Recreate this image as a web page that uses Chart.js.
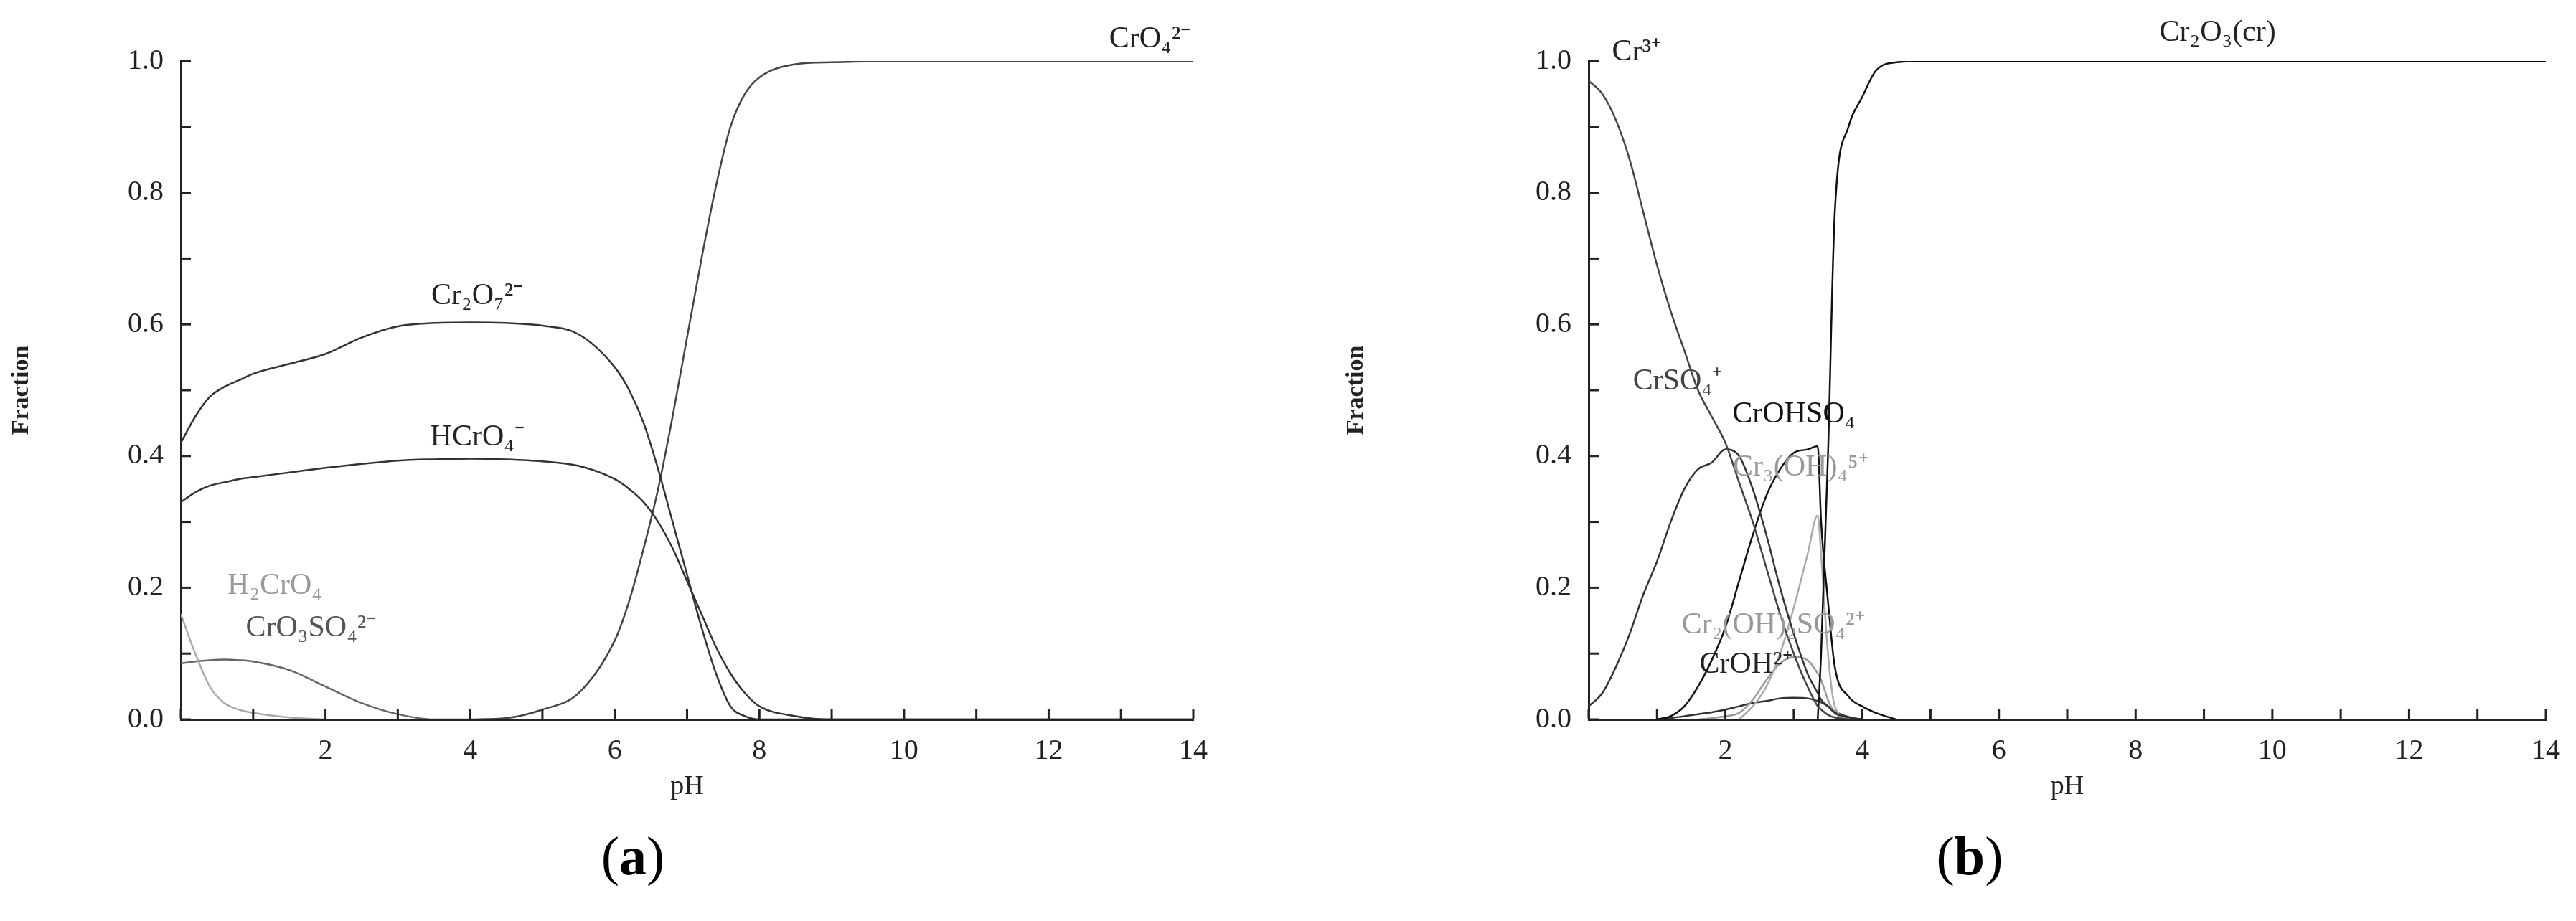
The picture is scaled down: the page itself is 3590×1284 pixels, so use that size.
<!DOCTYPE html>
<html><head><meta charset="utf-8">
<script src="https://cdn.jsdelivr.net/npm/chart.js@4/dist/chart.umd.min.js"></script>
<style>
body{margin:0;background:#fff;width:3590px;height:1284px;position:relative;overflow:hidden;font-family:"Liberation Serif",serif}
.box{position:absolute;top:0;height:1120px}
.cap{position:absolute;top:1150px;font-size:76px;transform:translateX(-50%)}
</style></head><body>
<div class="box" style="left:10px;width:1750px"><canvas id="ca"></canvas></div>
<div class="box" style="left:1870px;width:1710px"><canvas id="cb"></canvas></div>
<div class="cap" style="left:882px">(<b>a</b>)</div>
<div class="cap" style="left:2745px">(<b>b</b>)</div>
<script>
// panel (a)
const phA = [0,0.2,0.4,0.6,0.8,1,1.5,2,2.5,3,3.5,4,4.5,5,5.5,6,6.2,6.4,6.6,6.8,7,7.2,7.4,7.6,7.8,8,8.5,9,10,12,14];
const cr2o7 = [0.42,0.46,0.49,0.505,0.515,0.525,0.54,0.555,0.58,0.597,0.602,0.603,0.602,0.598,0.585,0.535,0.5,0.45,0.38,0.3,0.22,0.14,0.07,0.02,0.005,0,0,0,0,0,0];
const hcro4 = [0.33,0.345,0.355,0.36,0.365,0.368,0.375,0.382,0.388,0.393,0.395,0.396,0.395,0.392,0.385,0.365,0.35,0.33,0.3,0.26,0.21,0.16,0.11,0.07,0.04,0.02,0.005,0,0,0,0];
const cro4 = [null,null,null,null,null,null,null,null,null,null,null,0,0.002,0.015,0.04,0.12,0.18,0.26,0.35,0.46,0.58,0.7,0.81,0.9,0.95,0.975,0.995,0.998,1,1,1];
const h2cro4 = [0.16,0.1,0.05,0.025,0.015,0.01,0.003,0,null,null,null,null,null,null,null,null,null,null,null,null,null,null,null,null,null,null,null,null,null,null,null];
const cro3so4 = [0.085,0.088,0.09,0.091,0.09,0.088,0.075,0.05,0.025,0.008,0,0,null,null,null,null,null,null,null,null,null,null,null,null,null,null,null,null,null,null,null];

// panel (b)
const phB = [0,0.2,0.4,0.6,0.8,1,1.2,1.4,1.6,1.8,2,2.2,2.4,2.6,2.8,3,3.2,3.35,3.4,3.5,3.6,3.8,4,4.2,4.5,5,6,14];
const cr3 = [0.97,0.95,0.91,0.85,0.77,0.69,0.62,0.56,0.5,0.46,0.42,0.36,0.3,0.23,0.16,0.1,0.05,0.02,0.015,0.007,0.003,0,null,null,null,null,null,null];
const crso4 = [0.02,0.04,0.08,0.13,0.19,0.24,0.3,0.35,0.38,0.39,0.41,0.4,0.35,0.28,0.2,0.13,0.07,0.04,0.03,0.02,0.01,0.003,0,null,null,null,null,null];
const crohso4 = [null,null,null,null,null,0,0.005,0.02,0.05,0.09,0.14,0.21,0.28,0.34,0.38,0.405,0.41,0.415,0.3,0.18,0.08,0.035,0.02,0.01,0,null,null,null];
const cr2o3 = [null,null,null,null,null,null,null,null,null,null,null,null,null,null,null,null,null,0,0.1,0.4,0.77,0.9,0.945,0.985,0.998,1,1,1];
const cr3oh4 = [null,null,null,null,null,null,null,null,null,null,null,0,0.02,0.05,0.1,0.17,0.25,0.31,0.25,0.1,0.02,0,null,null,null,null,null,null];
const cr2oh2so4 = [null,null,null,null,null,null,null,null,0,0.002,0.005,0.01,0.03,0.06,0.085,0.095,0.09,0.07,0.06,0.03,0.01,0,null,null,null,null,null,null];
const croh = [null,null,null,null,null,0,0.002,0.005,0.008,0.011,0.015,0.02,0.025,0.028,0.032,0.033,0.032,0.028,0.026,0.02,0.012,0.004,0,null,null,null,null,null];

const labelsA = [
  ['CrO₄²⁻', 13.4, 1.01, '#222'], ['Cr₂O₇²⁻', 4.1, 0.62, '#222'], ['HCrO₄⁻', 4.1, 0.405, '#222'],
  ['H₂CrO₄', 1.3, 0.18, '#999'], ['CrO₃SO₄²⁻', 1.8, 0.115, '#555']
];
const labelsB = [
  ['Cr³⁺', 0.7, 0.99, '#222'], ['Cr₂O₃(cr)', 9.2, 1.02, '#222'], ['CrSO₄⁺', 1.3, 0.49, '#444'],
  ['CrOHSO₄', 3.0, 0.44, '#111'], ['Cr₃(OH)₄⁵⁺', 3.1, 0.36, '#999'],
  ['Cr₂(OH)₂SO₄²⁺', 2.7, 0.12, '#999'], ['CrOH²⁺', 2.3, 0.06, '#222']
];

const font = '"Liberation Serif", serif';

const inTicks = {
  id: 'inTicks',
  afterDraw(chart) {
    const c = chart.ctx, x = chart.scales.x, y = chart.scales.y, a = chart.chartArea;
    c.save(); c.strokeStyle = '#222'; c.lineWidth = 3;
    x.ticks.forEach(t => { const px = x.getPixelForValue(t.value); c.beginPath(); c.moveTo(px, a.bottom); c.lineTo(px, a.bottom - 14); c.stroke(); });
    y.ticks.forEach(t => { const py = y.getPixelForValue(t.value); c.beginPath(); c.moveTo(a.left, py); c.lineTo(a.left + 14, py); c.stroke(); });
    c.font = '42px ' + font; c.textAlign = 'center'; c.textBaseline = 'bottom';
    (chart.options.plugins.inTicks.labels || []).forEach(l => {
      c.fillStyle = l[3]; c.fillText(l[0], x.getPixelForValue(l[1]), y.getPixelForValue(l[2]));
    });
    c.restore();
  }
};

function ds(label, data, color) {
  return { label, data, borderColor: color, borderWidth: 2.5, pointRadius: 0, fill: false, cubicInterpolationMode: 'monotone', spanGaps: false };
}

function makeChart(id, ph, sets, labels, yw, right) {
  return new Chart(document.getElementById(id), {
    type: 'line',
    data: { labels: ph, datasets: sets },
    options: {
      responsive: true, maintainAspectRatio: false, animation: false,
      layout: { padding: { top: 85, right: right, left: 0, bottom: 0 } },
      plugins: { legend: { display: false }, tooltip: { enabled: false }, inTicks: { labels } },
      scales: {
        x: {
          type: 'linear', min: 0, max: 14,
          afterFit: s => { s.height = 117; },
          grid: { display: false }, border: { color: '#222', width: 3 },
          ticks: { stepSize: 1, color: '#222', font: { family: font, size: 40 }, padding: 12,
            callback: v => (v > 0 && v % 2 === 0) ? v : '' },
          title: { display: true, text: 'pH', color: '#222', font: { family: font, size: 38 }, padding: 0 }
        },
        y: {
          min: 0, max: 1,
          afterFit: s => { s.width = yw; },
          grid: { display: false }, border: { color: '#222', width: 3 },
          ticks: { stepSize: 0.1, color: '#222', font: { family: font, size: 40 }, padding: 16,
            callback: v => (Math.round(v * 10) % 2 === 0) ? v.toFixed(1) : '' },
          title: { display: true, text: 'Fraction', color: '#222', font: { family: font, size: 34, weight: 'bold' }, padding: 0 }
        }
      }
    },
    plugins: [inTicks]
  });
}

makeChart('ca', phA, [
  ds('Cr2O7', cr2o7, '#333'), ds('HCrO4', hcro4, '#333'), ds('CrO4', cro4, '#444'),
  ds('H2CrO4', h2cro4, '#aaa'), ds('CrO3SO4', cro3so4, '#666')
], labelsA, 242, 97);

makeChart('cb', phB, [
  ds('Cr3+', cr3, '#444'), ds('CrSO4+', crso4, '#333'), ds('CrOHSO4', crohso4, '#111'),
  ds('Cr2O3', cr2o3, '#111'), ds('Cr3(OH)4', cr3oh4, '#aaa'), ds('Cr2(OH)2SO4', cr2oh2so4, '#999'),
  ds('CrOH2+', croh, '#333')
], labelsB, 344, 31);
</script>
</body></html>
